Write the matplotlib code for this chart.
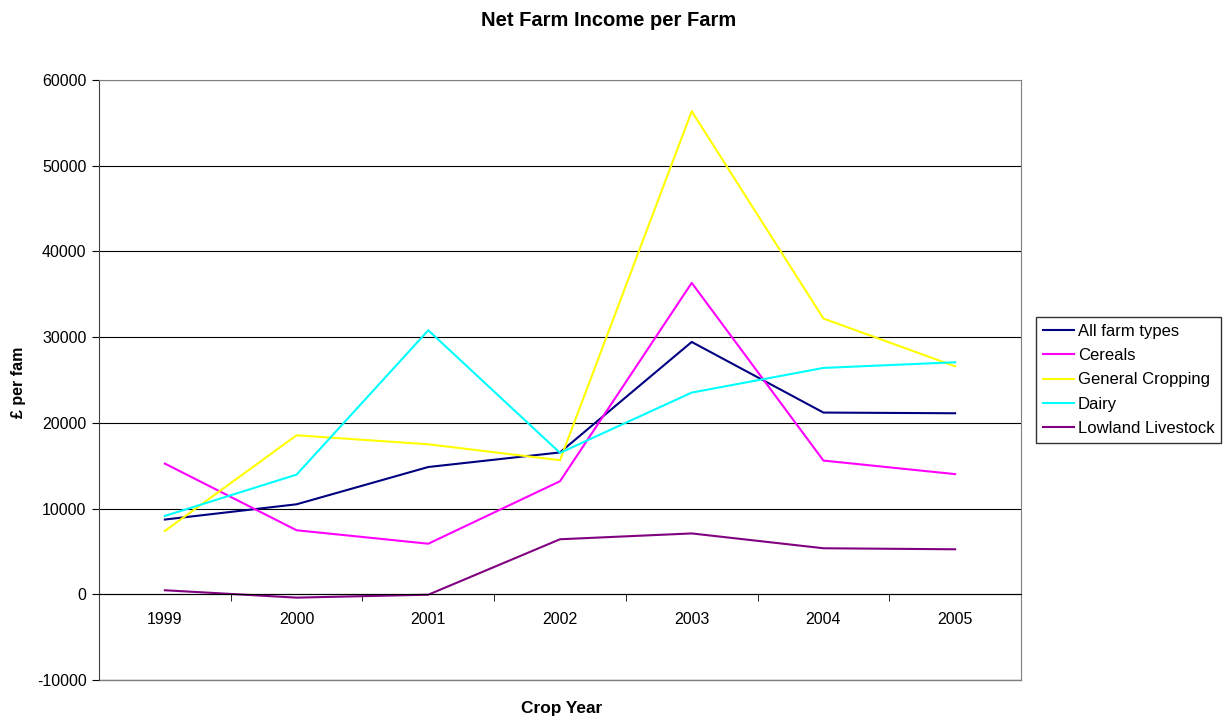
import matplotlib
matplotlib.use("Agg")
import matplotlib.pyplot as plt

plt.rcParams['font.family'] = ['Liberation Sans', 'DejaVu Sans']
plt.rcParams['axes.unicode_minus'] = False

years = ["1999", "2000", "2001", "2002", "2003", "2004", "2005"]

all_farm_types = [8720, 10500, 14850, 16550, 29440, 21200, 21120]
cereals = [15250, 7470, 5900, 13190, 36330, 15600, 14020]
general_cropping = [7390, 18550, 17500, 15640, 56360, 32170, 26600]
dairy = [9140, 13960, 30800, 16500, 23530, 26410, 27070]
lowland_livestock = [470, -390, -50, 6420, 7100, 5370, 5250]

series = [
    ("All farm types", all_farm_types, "#000080"),
    ("Cereals", cereals, "#ff00ff"),
    ("General Cropping", general_cropping, "#ffff00"),
    ("Dairy", dairy, "#00ffff"),
    ("Lowland Livestock", lowland_livestock, "#800080"),
]

fig = plt.figure(figsize=(12.29, 7.16), dpi=100)
ax = fig.add_axes([99 / 1229, 36 / 716, 922 / 1229, 600 / 716])

x = range(len(years))
for name, vals, col in series:
    ax.plot(x, vals, color=col, lw=1.5, label=name)

ax.set_xlim(-0.5, len(years) - 0.5)
ax.set_ylim(-10000, 60000)
ax.set_yticks(range(-10000, 60001, 10000))
ax.yaxis.grid(True, color="#000000", lw=0.8)
ax.set_axisbelow(True)
ax.tick_params(axis="y", direction="out", length=5, labelsize=11.5, pad=4,
               color="#000000")

# category axis crosses at zero
ax.spines["bottom"].set_position(("data", 0))
ax.spines["bottom"].set_color("#000000")
ax.set_xticks(list(x))
ax.set_xticklabels(years)
ax.set_xticks([i + 0.5 for i in range(len(years) - 1)], minor=True)
ax.tick_params(axis="x", which="major", length=0, labelsize=11.5, pad=13)
ax.tick_params(axis="x", which="minor", direction="out", length=5, color="#000000")
for s in ("top", "right"):
    ax.spines[s].set_color("#808080")
ax.spines["left"].set_color("#404040")
ax.axhline(-10000, color="#808080", lw=1.0, clip_on=False)

fig.text(609 / 1229, 1 - 21 / 716, "Net Farm Income per Farm", ha="center", va="center",
         fontsize=14.5, fontweight="bold")
fig.text(562 / 1229, 1 - 708 / 716, "Crop Year", ha="center", va="center",
         fontsize=12.4, fontweight="bold")
fig.text(18 / 1229, 1 - 382 / 716, "£ per fam", ha="center", va="center",
         rotation=90, fontsize=11.5, fontweight="bold")

leg = fig.legend(loc="upper left", bbox_to_anchor=(1036 / 1229, 1 - 317 / 716),
                 frameon=True, fancybox=False, edgecolor="#000000", fontsize=12,
                 handlelength=1.9, handletextpad=0.2, labelspacing=0.56,
                 borderpad=0.4, borderaxespad=0)
leg.get_frame().set_linewidth(1.0)

fig.savefig("out.png", dpi=100)
